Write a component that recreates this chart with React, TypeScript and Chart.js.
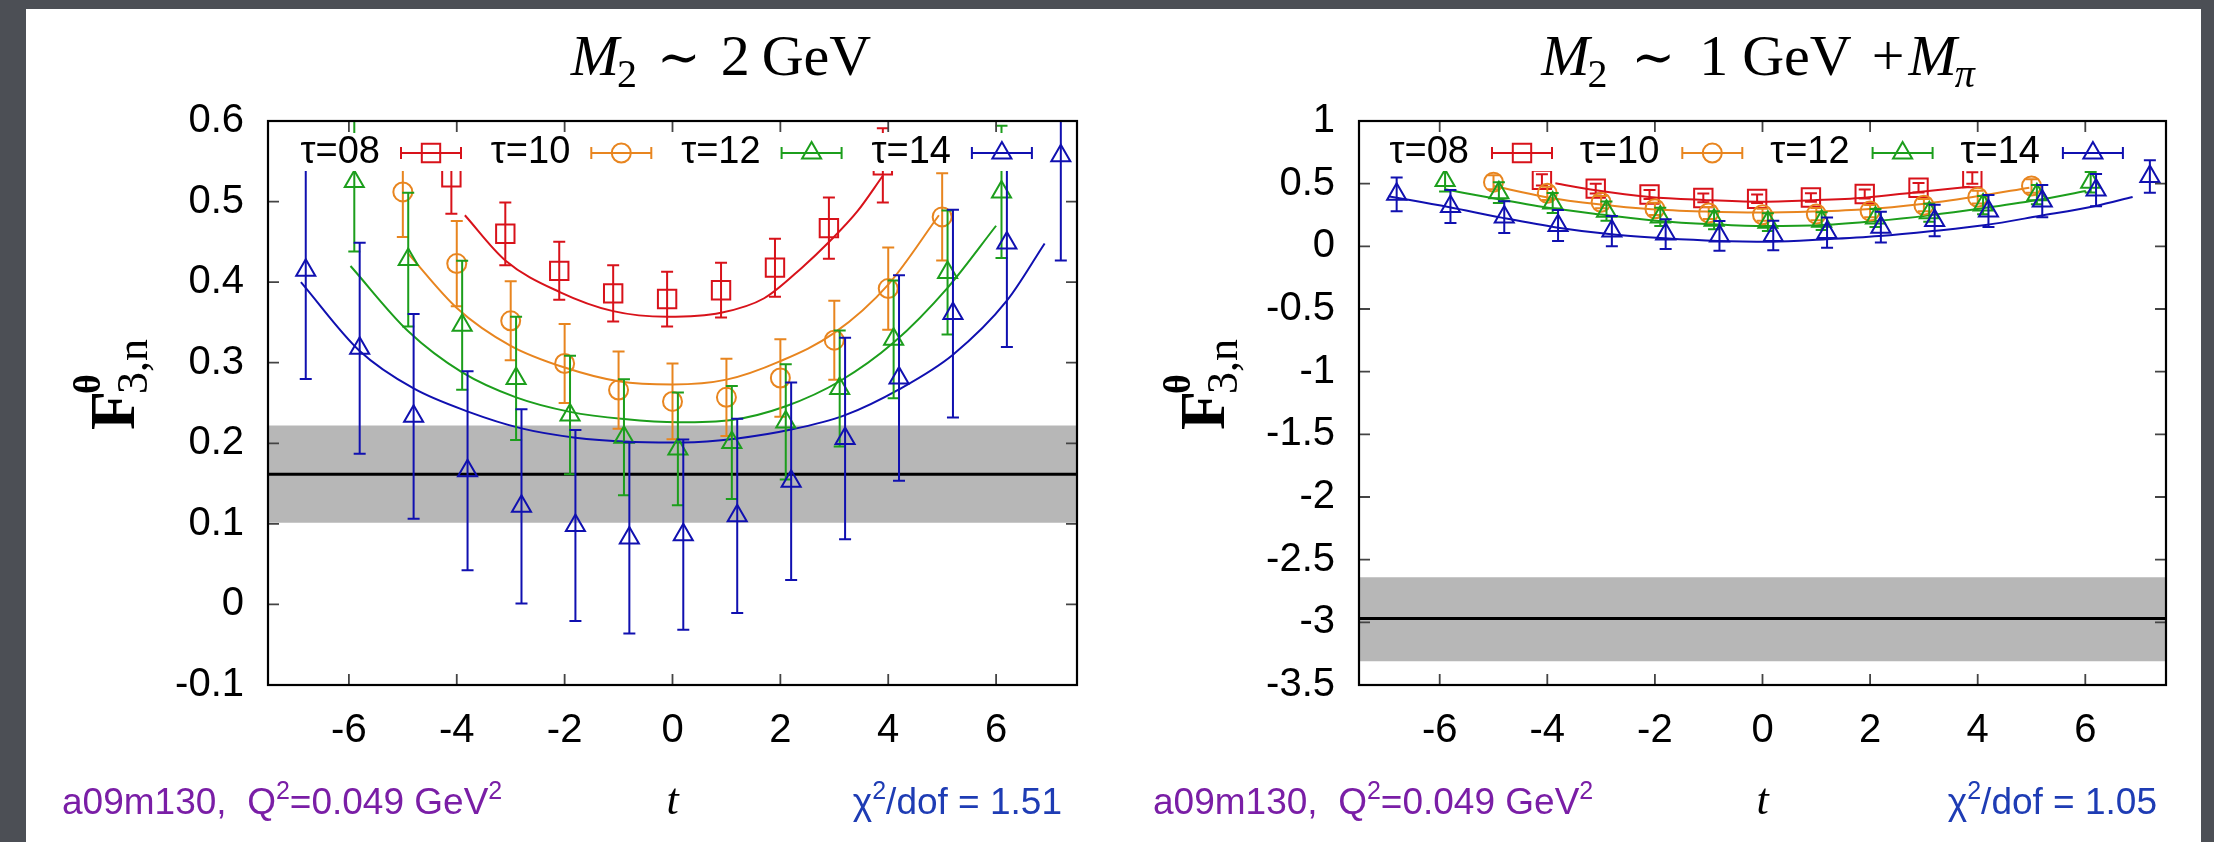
import React, { useEffect, useRef } from 'react';
import { Chart, registerables } from 'chart.js';
import { drawPoint } from 'chart.js/helpers';

Chart.register(...registerables);

const SANS = "'Liberation Sans', Arial, sans-serif";
const SERIF = "'Liberation Serif', 'DejaVu Serif', serif";

// ---------- data points (same correlator data in both panels) ----------
const T08_T = [-4.1, -3.1, -2.1, -1.1, -0.1, 0.9, 1.9, 2.9, 3.9];
const T08_Y = [0.530, 0.460, 0.414, 0.386, 0.379, 0.390, 0.418, 0.467, 0.545];
const T08_E = [0.045, 0.039, 0.036, 0.035, 0.034, 0.034, 0.036, 0.038, 0.046];

const T10_T = [-5, -4, -3, -2, -1, 0, 1, 2, 3, 4, 5];
const T10_Y = [0.512, 0.423, 0.352, 0.299, 0.266, 0.252, 0.257, 0.281, 0.328, 0.392, 0.481];
const T10_E = [0.056, 0.053, 0.049, 0.049, 0.048, 0.047, 0.048, 0.048, 0.049, 0.051, 0.054];

const T12_T = [-5.9, -4.9, -3.9, -2.9, -1.9, -0.9, 0.1, 1.1, 2.1, 3.1, 4.1, 5.1, 6.1];
const T12_Y = [0.525, 0.428, 0.3465, 0.2805, 0.235, 0.2076, 0.193, 0.201, 0.2265, 0.268, 0.329, 0.412, 0.512];
const T12_E = [0.087, 0.083, 0.080, 0.0765, 0.0735, 0.072, 0.070, 0.070, 0.0715, 0.072, 0.073, 0.077, 0.082];

const T14_T = [-6.8, -5.8, -4.8, -3.8, -2.8, -1.8, -0.8, 0.2, 1.2, 2.2, 3.2, 4.2, 5.2, 6.2, 7.2];
const T14_Y = [0.4147, 0.318, 0.2334, 0.166, 0.1217, 0.098, 0.0826, 0.0866, 0.110, 0.1528, 0.206, 0.281, 0.361, 0.4485, 0.557];
const T14_E = [0.135, 0.131, 0.127, 0.1235, 0.1204, 0.1185, 0.1186, 0.118, 0.1205, 0.1225, 0.125, 0.1276, 0.129, 0.129, 0.130];

// ---------- fit curves, left panel (M2 ~ 2 GeV) ----------
const L_FIT08_T = [-3.85, -3.1, -2.1, -1.1, -0.1, 0.9, 1.7, 2.4, 2.92, 3.43, 3.9];
const L_FIT08_Y = [0.483, 0.427, 0.388, 0.364, 0.357, 0.362, 0.380, 0.418, 0.451, 0.488, 0.532];
const L_FIT10_T = [-4.91, -4, -3, -2, -1, 0, 1, 2, 3, 4, 4.94];
const L_FIT10_Y = [0.436, 0.368, 0.321, 0.294, 0.277, 0.273, 0.279, 0.302, 0.337, 0.397, 0.483];
const L_FIT12_T = [-5.97, -4.9, -3.9, -2.9, -1.9, -0.9, 0.1, 1.1, 2.1, 3.1, 4.1, 5.1, 6.0];
const L_FIT12_Y = [0.420, 0.339, 0.288, 0.257, 0.239, 0.230, 0.226, 0.229, 0.246, 0.277, 0.325, 0.393, 0.470];
const L_FIT14_T = [-6.89, -5.8, -4.8, -3.78, -2.8, -1.8, -0.8, 0.2, 1.2, 2.2, 3.2, 4.2, 5.2, 6.2, 6.9];
const L_FIT14_Y = [0.400, 0.3145, 0.268, 0.239, 0.2185, 0.207, 0.202, 0.201, 0.206, 0.217, 0.235, 0.267, 0.310, 0.377, 0.448];

// ---------- fit curves, right panel (M2 ~ 1 GeV + Mpi) ----------
const R_FIT08_T = [-3.85, -3.1, -2.1, -1.1, -0.1, 0.9, 1.9, 2.9, 3.85];
const R_FIT08_Y = [0.503, 0.447, 0.394, 0.370, 0.356, 0.367, 0.388, 0.434, 0.476];
const R_FIT10_T = [-5, -4.04, -3.05, -2.06, -1.07, -0.07, 0.94, 1.93, 2.92, 3.91, 4.96];
const R_FIT10_Y = [0.481, 0.394, 0.335, 0.295, 0.277, 0.269, 0.277, 0.295, 0.335, 0.394, 0.468];
const R_FIT12_T = [-5.9, -4.9, -3.91, -2.92, -1.93, -0.94, 0.05, 1.12, 2.11, 3.1, 4.09, 5.08, 6.01];
const R_FIT12_Y = [0.455, 0.375, 0.303, 0.250, 0.202, 0.176, 0.162, 0.170, 0.202, 0.247, 0.303, 0.367, 0.441];
const R_FIT14_T = [-6.95, -5.84, -4.85, -3.8, -2.81, -1.82, -0.83, 0.16, 1.18, 2.17, 3.16, 4.15, 5.14, 6.19, 6.88];
const R_FIT14_Y = [0.400, 0.314, 0.229, 0.149, 0.096, 0.064, 0.043, 0.037, 0.056, 0.082, 0.122, 0.170, 0.242, 0.322, 0.394];

// ---------- bands (fit result) ----------
const L_BAND = [0.1015, 0.1616, 0.222]; // lo, central, hi
const R_BAND = [-3.31, -2.97, -2.64];

// ---------- ticks ----------
const X_TICKS = [-6, -4, -2, 0, 2, 4, 6];
const X_LABELS = ['-6', '-4', '-2', '0', '2', '4', '6'];
const YL_TICKS = [-0.1, 0, 0.1, 0.2, 0.3, 0.4, 0.5, 0.6];
const YL_LABELS = ['-0.1', '0', '0.1', '0.2', '0.3', '0.4', '0.5', '0.6'];
const YR_TICKS = [-3.5, -3, -2.5, -2, -1.5, -1, -0.5, 0, 0.5, 1];
const YR_LABELS = ['-3.5', '-3', '-2.5', '-2', '-1.5', '-1', '-0.5', '0', '0.5', '1'];

const TAU_LABELS = ['τ=08', 'τ=10', 'τ=12', 'τ=14'];
const ENSEMBLE_TEXT = 'a09m130,  Q';
const Q2_TEXT = '=0.049 GeV';
const CHI_L = '1.51';
const CHI_R = '1.05';

// ---------- styles ----------
const COLORS = ['#d8121a', '#e8851f', '#1c9e1c', '#1010b0'];
const STYLES = ['rect', 'circle', 'triangle', 'triangle'];
const RADII = [13, 9.5, 11, 11];
const BAND_COLOR = '#b7b7b7';
const PURPLE = '#7a1ea6';
const BLUE_TXT = '#1e3cb4';

const DATA_T = [T08_T, T10_T, T12_T, T14_T];
const DATA_Y = [T08_Y, T10_Y, T12_Y, T14_Y];
const DATA_E = [T08_E, T10_E, T12_E, T14_E];

type Part = { text: string; font: string; dy?: number; gap?: number; color?: string };

function drawRun(ctx: CanvasRenderingContext2D, parts: Part[], x: number, y: number, align: 'left' | 'center' | 'right', color: string) {
  ctx.textAlign = 'left';
  ctx.textBaseline = 'alphabetic';
  const widths = parts.map((p) => {
    ctx.font = p.font;
    return ctx.measureText(p.text).width;
  });
  const total = widths.reduce((a, b) => a + b, 0) + parts.reduce((a, p) => a + (p.gap || 0), 0);
  let cx = align === 'center' ? x - total / 2 : align === 'right' ? x - total : x;
  parts.forEach((p, i) => {
    cx += p.gap || 0;
    ctx.font = p.font;
    ctx.fillStyle = p.color || color;
    ctx.fillText(p.text, cx, y + (p.dy || 0));
    cx += widths[i];
  });
}

type Panel = {
  width: number;
  area: { left: number; top: number; right: number; bottom: number };
  yMin: number;
  yMax: number;
  yTicks: number[];
  yLabels: string[];
  band: number[];
  fitT: number[][];
  fitY: number[][];
  title: Part[];
  titleX: number;
  chi: string;
  legend: { boxL: number; boxR: number; boxT: number; boxB: number; rowY: number; textRight: number; sampleL: number; step: number };
  ylabX: number;
  ylabY: number;
  bottomL: number;
  bottomR: number;
};

const TS = 58;
const LEFT: Panel = {
  width: 1081,
  area: { left: 242, top: 112, right: 1051, bottom: 676 },
  yMin: -0.1,
  yMax: 0.6,
  yTicks: YL_TICKS,
  yLabels: YL_LABELS,
  band: L_BAND,
  fitT: [L_FIT08_T, L_FIT10_T, L_FIT12_T, L_FIT14_T],
  fitY: [L_FIT08_Y, L_FIT10_Y, L_FIT12_Y, L_FIT14_Y],
  title: [
    { text: 'M', font: `italic ${TS}px ${SERIF}` },
    { text: '2', font: `40px ${SERIF}`, dy: 12, gap: -2 },
    { text: '∼', font: `52px ${SERIF}`, gap: 20 },
    { text: '2', font: `${TS}px ${SERIF}`, gap: 20 },
    { text: 'GeV', font: `${TS}px ${SERIF}`, gap: 12 },
  ],
  titleX: 695,
  chi: CHI_L,
  legend: { boxL: 264, boxR: 1016, boxT: 124, boxB: 162, rowY: 144, textRight: 354, sampleL: 375, step: 190.3 },
  ylabX: 108,
  ylabY: 421,
  bottomL: 36,
  bottomR: 1036,
};

const RIGHT: Panel = {
  width: 1094,
  area: { left: 252, top: 112, right: 1059, bottom: 676 },
  yMin: -3.5,
  yMax: 1,
  yTicks: YR_TICKS,
  yLabels: YR_LABELS,
  band: R_BAND,
  fitT: [R_FIT08_T, R_FIT10_T, R_FIT12_T, R_FIT14_T],
  fitY: [R_FIT08_Y, R_FIT10_Y, R_FIT12_Y, R_FIT14_Y],
  title: [
    { text: 'M', font: `italic ${TS}px ${SERIF}` },
    { text: '2', font: `40px ${SERIF}`, dy: 12, gap: -2 },
    { text: '∼', font: `52px ${SERIF}`, gap: 24 },
    { text: '1', font: `${TS}px ${SERIF}`, gap: 24 },
    { text: 'GeV', font: `${TS}px ${SERIF}`, gap: 14 },
    { text: '+', font: `${TS}px ${SERIF}`, gap: 20 },
    { text: 'M', font: `italic ${TS}px ${SERIF}`, gap: 4 },
    { text: 'π', font: `italic 40px ${SERIF}`, dy: 12, gap: -2 },
  ],
  titleX: 651,
  chi: CHI_R,
  legend: { boxL: 273, boxR: 1025, boxT: 124, boxB: 162, rowY: 144, textRight: 362, sampleL: 385, step: 190.3 },
  ylabX: 117,
  ylabY: 421,
  bottomL: 46,
  bottomR: 1050,
};

const CAP = 6;

function buildChart(canvas: HTMLCanvasElement, p: Panel) {
  const datasets: any[] = [];
  datasets.push({
    type: 'line',
    data: [{ x: -7.5, y: p.band[2] }, { x: 7.5, y: p.band[2] }],
    fill: { value: p.band[0] },
    backgroundColor: BAND_COLOR,
    borderWidth: 0,
    pointRadius: 0,
    order: 30,
  });
  datasets.push({
    type: 'line',
    data: [{ x: -7.5, y: p.band[1] }, { x: 7.5, y: p.band[1] }],
    borderColor: '#000',
    borderWidth: 3,
    pointRadius: 0,
    fill: false,
    order: 29,
  });
  for (let k = 0; k < 4; k++) {
    datasets.push({
      type: 'line',
      data: p.fitT[k].map((t, i) => ({ x: t, y: p.fitY[k][i] })),
      borderColor: COLORS[k],
      borderWidth: 2,
      pointRadius: 0,
      fill: false,
      tension: 0.4,
      cubicInterpolationMode: 'monotone',
      order: 20 - k,
    });
  }
  for (let k = 0; k < 4; k++) {
    datasets.push({
      type: 'scatter',
      label: TAU_LABELS[k],
      data: DATA_T[k].map((t, i) => ({ x: t, y: DATA_Y[k][i] })),
      errors: DATA_E[k],
      pointStyle: STYLES[k],
      pointRadius: RADII[k],
      borderColor: COLORS[k],
      backgroundColor: 'rgba(0,0,0,0)',
      borderWidth: 2,
      showLine: false,
      order: 10 - k,
    });
  }

  const errorBars = {
    id: 'errorBars',
    afterDatasetDraw(chart: any, args: any) {
      const ds = chart.data.datasets[args.index];
      if (!ds.errors) return;
      const { ctx, chartArea: a } = chart;
      const ys = chart.scales.y;
      ctx.save();
      ctx.beginPath();
      ctx.rect(a.left, a.top, a.right - a.left, a.bottom - a.top);
      ctx.clip();
      ctx.strokeStyle = ds.borderColor;
      ctx.lineWidth = 2;
      args.meta.data.forEach((pt: any, i: number) => {
        const v = ds.data[i].y;
        const e = ds.errors[i];
        const y1 = ys.getPixelForValue(v + e);
        const y2 = ys.getPixelForValue(v - e);
        const x = pt.x;
        ctx.beginPath();
        ctx.moveTo(x, y1);
        ctx.lineTo(x, y2);
        ctx.moveTo(x - CAP, y1);
        ctx.lineTo(x + CAP, y1);
        ctx.moveTo(x - CAP, y2);
        ctx.lineTo(x + CAP, y2);
        ctx.stroke();
      });
      ctx.restore();
    },
  };

  const frame = {
    id: 'frame',
    afterDatasetsDraw(chart: any) {
      const { ctx, chartArea: a } = chart;
      const L = p.legend;
      ctx.save();
      // opaque key box
      ctx.fillStyle = '#fff';
      ctx.fillRect(L.boxL, L.boxT, L.boxR - L.boxL, L.boxB - L.boxT);
      for (let k = 0; k < 4; k++) {
        const off = k * L.step;
        ctx.font = `38px ${SANS}`;
        ctx.fillStyle = '#000';
        ctx.textAlign = 'right';
        ctx.textBaseline = 'middle';
        ctx.fillText(TAU_LABELS[k], L.textRight + off, L.rowY);
        const x0 = L.sampleL + off;
        const x1 = x0 + 60;
        ctx.strokeStyle = COLORS[k];
        ctx.lineWidth = 2;
        ctx.beginPath();
        ctx.moveTo(x0, L.rowY);
        ctx.lineTo(x1, L.rowY);
        ctx.moveTo(x0, L.rowY - CAP);
        ctx.lineTo(x0, L.rowY + CAP);
        ctx.moveTo(x1, L.rowY - CAP);
        ctx.lineTo(x1, L.rowY + CAP);
        ctx.stroke();
        ctx.fillStyle = 'rgba(0,0,0,0)';
        drawPoint(ctx, { pointStyle: STYLES[k], rotation: 0, radius: RADII[k], borderWidth: 2 } as any, (x0 + x1) / 2, L.rowY);
      }
      // inward ticks
      const xs = chart.scales.x;
      const ys = chart.scales.y;
      ctx.strokeStyle = '#444';
      ctx.lineWidth = 1.8;
      ctx.beginPath();
      xs.ticks.forEach((t: any) => {
        const px = xs.getPixelForValue(t.value);
        ctx.moveTo(px, a.bottom);
        ctx.lineTo(px, a.bottom - 11);
        ctx.moveTo(px, a.top);
        ctx.lineTo(px, a.top + 11);
      });
      ys.ticks.forEach((t: any) => {
        const py = ys.getPixelForValue(t.value);
        ctx.moveTo(a.left, py);
        ctx.lineTo(a.left + 11, py);
        ctx.moveTo(a.right, py);
        ctx.lineTo(a.right - 11, py);
      });
      ctx.stroke();
      // border
      ctx.strokeStyle = '#000';
      ctx.lineWidth = 2.2;
      ctx.strokeRect(a.left, a.top, a.right - a.left, a.bottom - a.top);
      ctx.restore();
    },
    afterDraw(chart: any) {
      const { ctx, chartArea: a } = chart;
      ctx.save();
      // title
      drawRun(ctx, p.title, p.titleX, 66, 'center', '#000');
      // y label  F^theta_{3,n}
      ctx.save();
      ctx.translate(p.ylabX, p.ylabY);
      ctx.rotate(-Math.PI / 2);
      ctx.fillStyle = '#000';
      ctx.textAlign = 'left';
      ctx.textBaseline = 'alphabetic';
      ctx.font = `bold 64px ${SERIF}`;
      ctx.fillText('F', 0, 0);
      const fw = ctx.measureText('F').width;
      ctx.font = `bold 38px ${SERIF}`;
      ctx.fillText('θ', fw - 3, -34);
      ctx.font = `44px ${SERIF}`;
      ctx.fillText('3,n', fw - 3, 13);
      ctx.restore();
      // x label
      ctx.fillStyle = '#000';
      ctx.font = `italic 44px ${SERIF}`;
      ctx.textAlign = 'center';
      ctx.textBaseline = 'alphabetic';
      ctx.fillText('t', (a.left + a.right) / 2, 805);
      // bottom-left ensemble text
      drawRun(
        ctx,
        [
          { text: ENSEMBLE_TEXT, font: `37px ${SANS}` },
          { text: '2', font: `25px ${SANS}`, dy: -15 },
          { text: Q2_TEXT, font: `37px ${SANS}` },
          { text: '2', font: `25px ${SANS}`, dy: -15 },
        ],
        p.bottomL,
        805,
        'left',
        PURPLE,
      );
      // bottom-right chi2
      drawRun(
        ctx,
        [
          { text: 'χ', font: `37px ${SANS}` },
          { text: '2', font: `25px ${SANS}`, dy: -15 },
          { text: '/dof = ' + p.chi, font: `37px ${SANS}` },
        ],
        p.bottomR,
        805,
        'right',
        BLUE_TXT,
      );
      ctx.restore();
    },
  };

  const a = p.area;
  return new Chart(canvas, {
    type: 'scatter',
    data: { datasets },
    options: {
      animation: false,
      responsive: false,
      maintainAspectRatio: false,
      events: [],
      layout: { padding: { left: 0, top: a.top, right: p.width - a.right, bottom: 0 } },
      plugins: { legend: { display: false }, tooltip: { enabled: false }, title: { display: false } },
      scales: {
        x: {
          type: 'linear',
          min: -7.5,
          max: 7.5,
          afterBuildTicks: (s: any) => {
            s.ticks = X_TICKS.map((v) => ({ value: v }));
          },
          afterFit: (s: any) => {
            s.height = 833 - a.bottom;
          },
          grid: { display: false, drawTicks: false },
          border: { display: false },
          ticks: {
            font: { family: SANS, size: 40 },
            color: '#000',
            padding: 22,
            maxRotation: 0,
            autoSkip: false,
            callback: (_v: any, i: number) => X_LABELS[i],
          },
        },
        y: {
          type: 'linear',
          min: p.yMin,
          max: p.yMax,
          afterBuildTicks: (s: any) => {
            s.ticks = p.yTicks.map((v) => ({ value: v }));
          },
          afterFit: (s: any) => {
            s.width = a.left;
          },
          grid: { display: false, drawTicks: false },
          border: { display: false },
          ticks: {
            font: { family: SANS, size: 40 },
            color: '#000',
            padding: 24,
            autoSkip: false,
            callback: (_v: any, i: number) => p.yLabels[i],
          },
        },
      },
    } as any,
    plugins: [errorBars, frame],
  });
}

export default function App() {
  const leftRef = useRef<HTMLCanvasElement>(null);
  const rightRef = useRef<HTMLCanvasElement>(null);
  useEffect(() => {
    const c1 = buildChart(leftRef.current!, LEFT);
    const c2 = buildChart(rightRef.current!, RIGHT);
    return () => {
      c1.destroy();
      c2.destroy();
    };
  }, []);
  return (
    <div style={{ position: 'fixed', left: 0, top: 0, width: 2214, height: 842, background: '#4c4f55', overflow: 'hidden' }}>
      <div style={{ position: 'absolute', left: 26, top: 9, width: 2175, height: 833, background: '#fff' }} />
      <canvas ref={leftRef} width={1081} height={833} style={{ position: 'absolute', left: 26, top: 9, width: 1081, height: 833 }} />
      <canvas ref={rightRef} width={1094} height={833} style={{ position: 'absolute', left: 1107, top: 9, width: 1094, height: 833 }} />
    </div>
  );
}
